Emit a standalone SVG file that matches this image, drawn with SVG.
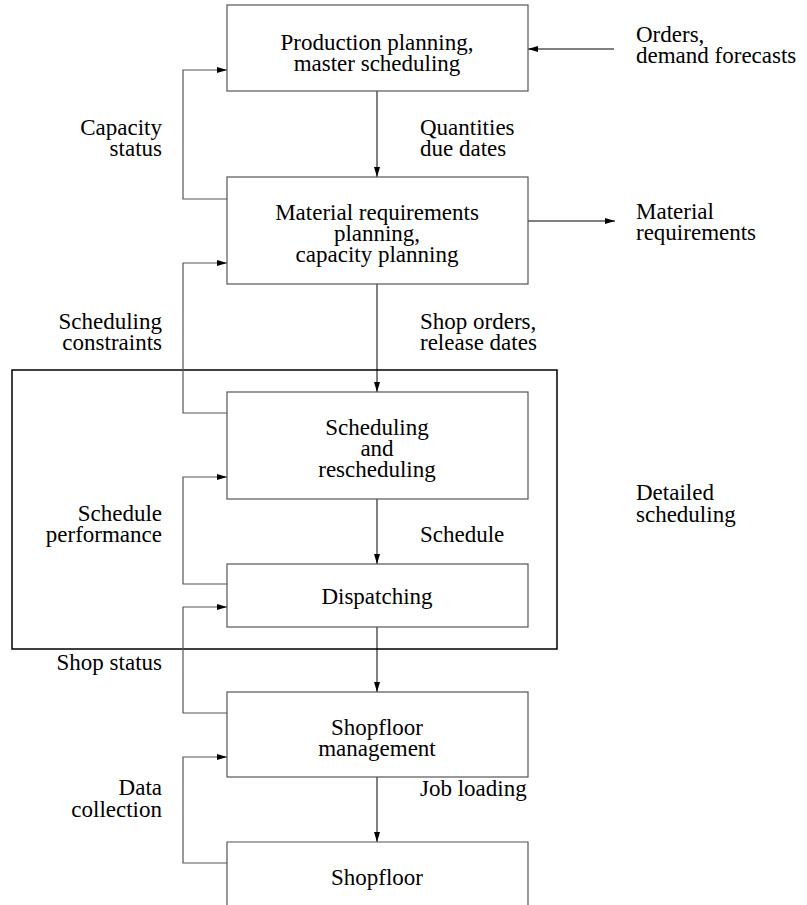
<svg xmlns="http://www.w3.org/2000/svg" width="807" height="905" viewBox="0 0 807 905" font-family="'Liberation Serif', 'Times New Roman', serif">
<defs>
<marker id="ah" viewBox="0 0 10 6" refX="10" refY="3" markerWidth="10" markerHeight="6" markerUnits="userSpaceOnUse" orient="auto">
<path d="M0,0 L10,3 L0,6 Z" fill="#000"/>
</marker>
<style>
.box{fill:#fff;stroke:#555;stroke-width:1.2}
.outer{fill:none;stroke:#000;stroke-width:1.5}
.ca{fill:none;stroke:#000;stroke-width:1;marker-end:url(#ah)}
.fba{fill:none;stroke:#555;stroke-width:1.2;marker-end:url(#ah)}
text{font-family:'Liberation Serif','Times New Roman',serif;font-size:23px;fill:#000}
.m{text-anchor:middle}
.r{text-anchor:end}
</style>
</defs>
<rect x="0" y="0" width="807" height="905" fill="#fff"/>
<g id="detailed-scheduling">
<rect class="outer" x="12" y="370" width="545" height="279"/>
<text x="636" y="500">Detailed<tspan x="636" dy="22">scheduling</tspan></text>
</g>
<g id="connectors">
<line class="ca" x1="614" y1="49" x2="528" y2="49"/>
<line class="ca" x1="377" y1="91" x2="377" y2="177"/>
<polyline class="fba" points="227,199 183,199 183,70 227,70"/>
<line class="ca" x1="528" y1="221" x2="615" y2="221"/>
<line class="ca" x1="377" y1="284" x2="377" y2="392"/>
<polyline class="fba" points="227,413 183,413 183,263 227,263"/>
<line class="ca" x1="377" y1="499" x2="377" y2="564"/>
<polyline class="fba" points="227,584 183,584 183,477 227,477"/>
<line class="ca" x1="377" y1="627" x2="377" y2="692"/>
<polyline class="fba" points="227,713 183,713 183,607 227,607"/>
<line class="ca" x1="377" y1="777" x2="377" y2="842"/>
<polyline class="fba" points="227,863 183,863 183,757 227,757"/>
</g>
<g id="labels">
<text x="636" y="42">Orders,<tspan x="636" dy="21">demand forecasts</tspan></text>
<text x="420" y="135">Quantities<tspan x="420" dy="21">due dates</tspan></text>
<text class="r" x="162" y="135">Capacity<tspan x="162" dy="21">status</tspan></text>
<text x="636" y="219">Material<tspan x="636" dy="21">requirements</tspan></text>
<text class="r" x="162" y="329">Scheduling<tspan x="162" dy="21">constraints</tspan></text>
<text x="420" y="329">Shop orders,<tspan x="420" dy="21">release dates</tspan></text>
<text class="r" x="162" y="521">Schedule<tspan x="162" dy="21">performance</tspan></text>
<text x="420" y="542">Schedule</text>
<text class="r" x="162" y="670">Shop status</text>
<text class="r" x="162" y="795">Data<tspan x="162" dy="22">collection</tspan></text>
<text x="420" y="796">Job loading</text>
</g>
<g id="production-planning">
<rect class="box" x="227" y="5" width="301" height="86"/>
<text class="m" x="377" y="50">Production planning,<tspan x="377" dy="21">master scheduling</tspan></text>
</g>
<g id="mrp">
<rect class="box" x="227" y="177" width="301" height="107"/>
<text class="m" x="377" y="220">Material requirements<tspan x="377" dy="21">planning,</tspan><tspan x="377" dy="21">capacity planning</tspan></text>
</g>
<g id="scheduling">
<rect class="box" x="227" y="392" width="301" height="107"/>
<text class="m" x="377" y="435">Scheduling<tspan x="377" dy="21">and</tspan><tspan x="377" dy="21">rescheduling</tspan></text>
</g>
<g id="dispatching">
<rect class="box" x="227" y="564" width="301" height="63"/>
<text class="m" x="377" y="604">Dispatching</text>
</g>
<g id="shopfloor-management">
<rect class="box" x="227" y="692" width="301" height="85"/>
<text class="m" x="377" y="735">Shopfloor<tspan x="377" dy="21">management</tspan></text>
</g>
<g id="shopfloor">
<path class="box" d="M227,906 L227,842 L528,842 L528,906"/>
<text class="m" x="377" y="885">Shopfloor</text>
</g>
</svg>
